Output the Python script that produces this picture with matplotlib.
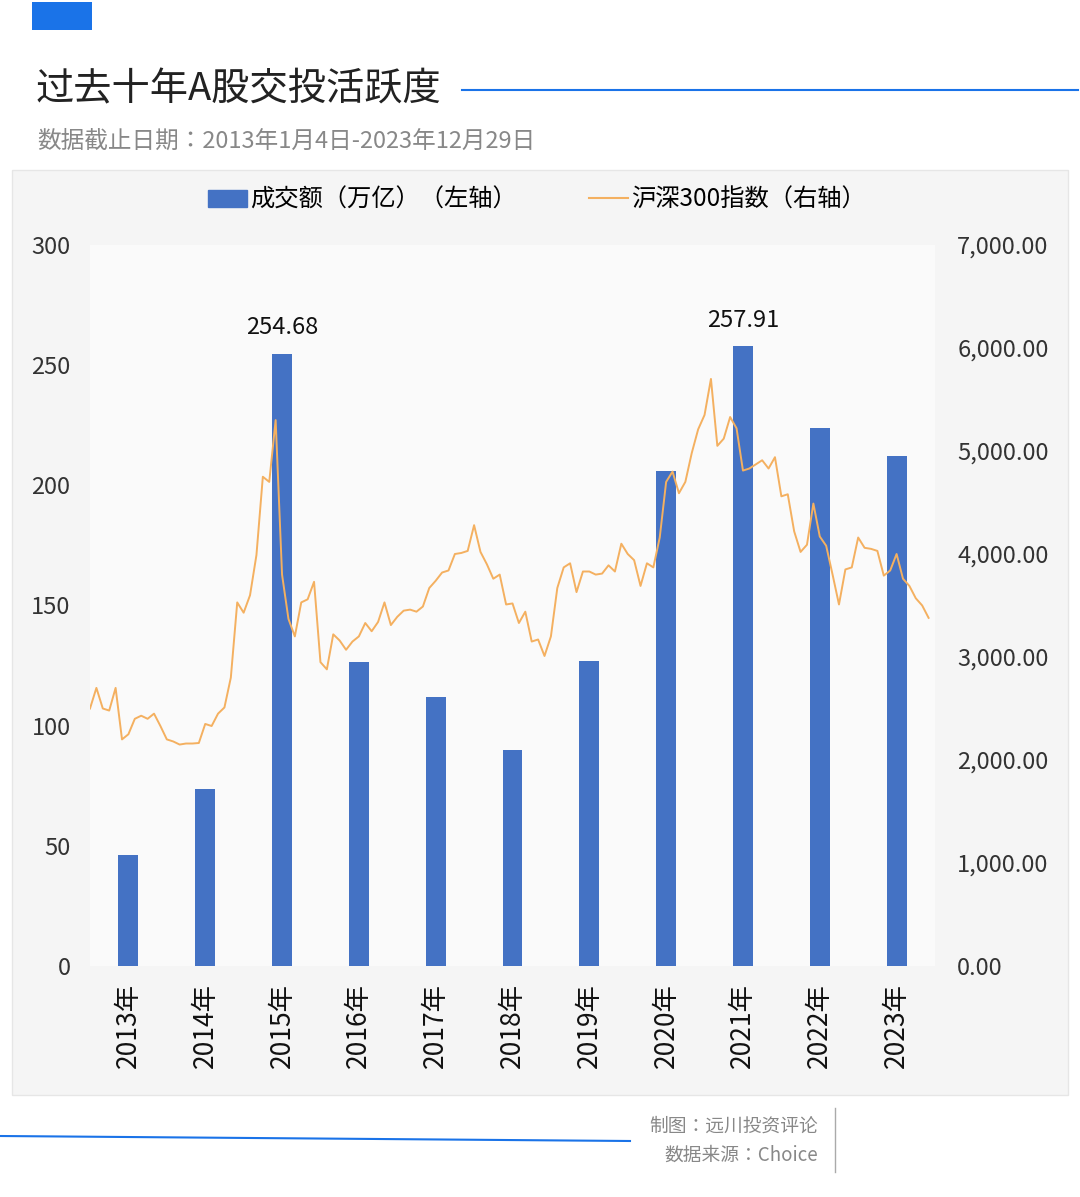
import matplotlib
matplotlib.use("Agg")
import matplotlib.pyplot as plt
import numpy as np
from matplotlib.patches import Rectangle, Patch
from matplotlib.lines import Line2D
from matplotlib import font_manager as fm

names = {f.name for f in fm.fontManager.ttflist}
cjk = [n for n in ['Noto Sans CJK SC', 'Noto Sans CJK JP', 'Noto Sans CJK TC', 'Noto Sans CJK KR'] if n in names]
plt.rcParams['font.family'] = 'sans-serif'
plt.rcParams['font.sans-serif'] = cjk + ['DejaVu Sans']

years = ['2013年','2014年','2015年','2016年','2017年','2018年','2019年','2020年','2021年','2022年','2023年']
turnover = [46.2, 73.7, 254.68, 126.5, 112.0, 89.9, 127.0, 206.0, 257.91, 224.0, 212.0]
csi300 = [
 2500,2700,2500,2480,2700,2200,2250,2400,2430,2400,2450,2330,
 2200,2180,2150,2160,2160,2165,2350,2330,2450,2510,2800,3530,
 3430,3600,3990,4750,4700,5300,3800,3370,3200,3530,3560,3730,
 2950,2880,3220,3160,3070,3150,3200,3330,3250,3340,3530,3310,
 3390,3450,3460,3440,3490,3670,3740,3820,3840,4000,4010,4030,
 4280,4020,3900,3760,3800,3510,3520,3330,3440,3150,3170,3010,
 3200,3670,3870,3910,3630,3830,3830,3800,3810,3890,3830,4100,
 4000,3940,3690,3910,3870,4160,4700,4800,4590,4700,4980,5210,
 5350,5700,5050,5120,5330,5220,4810,4830,4870,4910,4830,4940,
 4560,4580,4220,4020,4090,4490,4170,4080,3800,3510,3850,3870,
 4160,4060,4050,4030,3790,3840,4000,3760,3690,3570,3500,3380]

fig = plt.figure(figsize=(10.8, 11.97), dpi=100)
fig.patch.set_facecolor('white')
W, H = 1080, 1197
def fx(x): return x / W
def fy(y): return 1 - y / H

bg = fig.add_axes([0, 0, 1, 1], zorder=-10)
bg.set_xlim(0, W); bg.set_ylim(H, 0); bg.axis('off')
bg.add_patch(Rectangle((12, 170), 1056, 925, facecolor='#f5f5f5', edgecolor='#e6e6e6', lw=1))
bg.add_patch(Rectangle((32, 2), 60, 28, facecolor='#1a73e8', edgecolor='none'))
bg.plot([462, 1078], [90, 90], color='#1a73e8', lw=1.5)
bg.plot([0, 630], [1136, 1141], color='#1a73e8', lw=1.5)
bg.plot([835, 835], [1108, 1172], color='#aaaaaa', lw=1)

fig.text(fx(36), fy(90), '过去十年A股交投活跃度', fontsize=27.5, va='center', color='#222222')
fig.text(fx(37), fy(141), '数据截止日期：2013年1月4日-2023年12月29日', fontsize=17, va='center', color='#888888')
fig.text(fx(818), fy(1126), '制图：远川投资评论', fontsize=13.5, ha='right', va='center', color='#888888')
fig.text(fx(818), fy(1155), '数据来源：Choice', fontsize=13.5, ha='right', va='center', color='#888888')

ax = fig.add_axes([fx(90), fy(966), fx(845), (966-245)/H])
ax.set_facecolor('#fafafa')
x = np.arange(len(years)) + 0.5
ax.bar(x, turnover, width=0.26, color='#4472c4', zorder=2)
ax.set_xlim(0, len(years))
ax.set_ylim(0, 300)
ax.set_yticks(range(0, 301, 50))
ax.set_xticks(x)
ax.set_xticklabels(years, rotation=90, fontsize=19)
ax.tick_params(axis='y', labelsize=17, colors='#333333', length=0, pad=14)
ax.tick_params(axis='x', length=0, pad=12, labelcolor='#111111')
for s in ax.spines.values():
    s.set_visible(False)
for i in (2, 8):
    ax.text(x[i], turnover[i] + 6, f'{turnover[i]:.2f}', ha='center', va='bottom', fontsize=17, color='#111111')

ax2 = ax.twinx()
t = np.arange(len(csi300)) / 12.0
ax2.plot(t, csi300, color='#f4b060', lw=1.4, zorder=3)
ax2.set_ylim(0, 7000)
ax2.set_yticks(range(0, 7001, 1000))
ax2.set_yticklabels([f'{v:,.2f}' for v in range(0, 7001, 1000)])
ax2.tick_params(axis='y', labelsize=17, colors='#333333', length=0, pad=16)
for s in ax2.spines.values():
    s.set_visible(False)

h = [Patch(color='#4472c4', label='成交额（万亿）（左轴）'),
     Line2D([], [], color='#f4b060', lw=1.5, label='沪深300指数（右轴）')]
fig.legend(handles=h, loc='center', bbox_to_anchor=(fx(537), fy(200)), ncol=2, frameon=False,
           fontsize=17.5, handlelength=1.6, columnspacing=3, handletextpad=0.1)

fig.savefig('out.png', dpi=100, facecolor='white')
